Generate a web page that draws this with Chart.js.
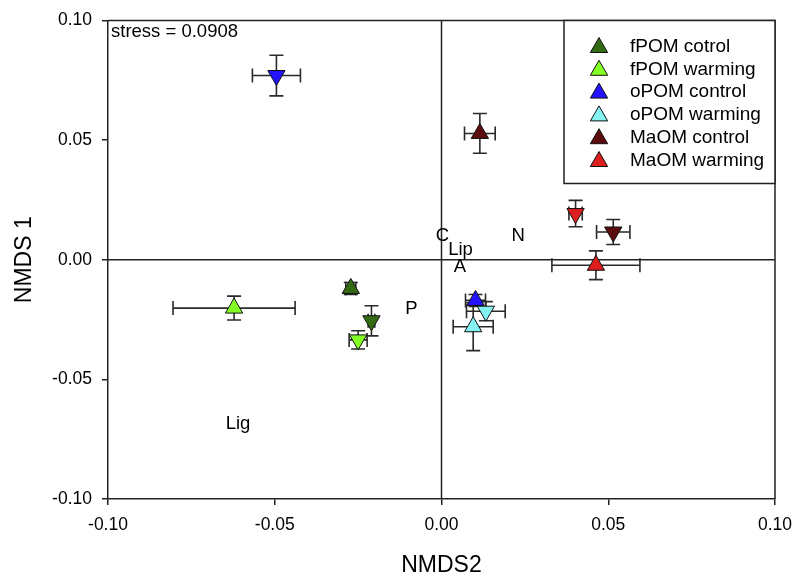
<!DOCTYPE html>
<html>
<head>
<meta charset="utf-8">
<script src="https://cdn.jsdelivr.net/npm/chart.js@4.4.1/dist/chart.umd.min.js"></script>
<style>
  body { margin: 0; background: #fff; }
</style>
</head>
<body>
<canvas id="nmds-chart" width="800" height="583"></canvas>
<script>
// NMDS ordination of SOM fractions
const groups = ['fPOM cotrol', 'fPOM warming', 'oPOM control', 'oPOM warming', 'MaOM control', 'MaOM warming'];
const colors = ['#346b12', '#84ff24', '#2412ff', '#84f2f2', '#5c0c0c', '#dc1e1e'];

// up triangles
const upX = [-0.0272, -0.0622, 0.0102, 0.0095, 0.0115, 0.0463];
const upY = [-0.0120, -0.0202, -0.0170, -0.0280, 0.0528, -0.0023];
const upXErr = [0.0015, 0.0183, 0.0030, 0.0060, 0.0046, 0.0132];
const upYErr = [0.0025, 0.0050, 0.0025, 0.0100, 0.0083, 0.0060];

// down triangles
const downX = [-0.0210, -0.0250, -0.0495, 0.0133, 0.0515, 0.0402];
const downY = [-0.0255, -0.0335, 0.0770, -0.0215, 0.0116, 0.0193];
const downXErr = [0.0010, 0.0027, 0.0072, 0.0058, 0.0050, 0.0020];
const downYErr = [0.0063, 0.0038, 0.0085, 0.0040, 0.0052, 0.0055];

// variable labels
const varLabels = ['C', 'Lip', 'A', 'N', 'P', 'Lig'];
const varX = [0.0003, 0.0057, 0.0055, 0.0230, -0.0090, -0.0610];
const varY = [0.0100, 0.0040, -0.0030, 0.0098, -0.0205, -0.0685];

const axisTicks = [-0.10, -0.05, 0.00, 0.05, 0.10];
const stressText = 'stress = 0.0908';

const FONT = "'Liberation Sans', Arial, sans-serif";

const datasets = groups.map((name, i) => ({
  label: name,
  data: [
    { x: upX[i], y: upY[i], xErr: upXErr[i], yErr: upYErr[i] },
    { x: downX[i], y: downY[i], xErr: downXErr[i], yErr: downYErr[i] },
  ],
  pointStyle: 'triangle',
  pointRotation: [0, 180],
  pointRadius: 10,
  pointHoverRadius: 10,
  pointBackgroundColor: colors[i],
  pointBorderColor: '#111',
  pointBorderWidth: 1,
  order: groups.length - i,
}));

// error bars behind the markers
const errorBars = {
  id: 'errorBars',
  beforeDatasetsDraw(chart) {
    const { ctx, scales: { x, y } } = chart;
    const cap = 7;
    ctx.save();
    ctx.strokeStyle = '#2a2a2a';
    ctx.lineWidth = 1.6;
    chart.data.datasets.forEach(ds => {
      ds.data.forEach(p => {
        const px = x.getPixelForValue(p.x);
        const py = y.getPixelForValue(p.y);
        const x0 = x.getPixelForValue(p.x - p.xErr);
        const x1 = x.getPixelForValue(p.x + p.xErr);
        const y0 = y.getPixelForValue(p.y - p.yErr);
        const y1 = y.getPixelForValue(p.y + p.yErr);
        ctx.beginPath();
        ctx.moveTo(x0, py); ctx.lineTo(x1, py);
        ctx.moveTo(x0, py - cap); ctx.lineTo(x0, py + cap);
        ctx.moveTo(x1, py - cap); ctx.lineTo(x1, py + cap);
        ctx.moveTo(px, y0); ctx.lineTo(px, y1);
        ctx.moveTo(px - cap, y0); ctx.lineTo(px + cap, y0);
        ctx.moveTo(px - cap, y1); ctx.lineTo(px + cap, y1);
        ctx.stroke();
      });
    });
    ctx.restore();
  }
};

// frame, zero lines, labels and legend box
const decorations = {
  id: 'decorations',
  beforeDatasetsDraw(chart) {
    const { ctx, chartArea: a, scales: { x, y } } = chart;
    ctx.save();
    ctx.strokeStyle = '#222';
    ctx.lineWidth = 1.5;
    ctx.beginPath();
    ctx.moveTo(a.left, a.top); ctx.lineTo(a.right, a.top); ctx.lineTo(a.right, a.bottom);
    const zx = x.getPixelForValue(0), zy = y.getPixelForValue(0);
    ctx.moveTo(zx, a.top); ctx.lineTo(zx, a.bottom);
    ctx.moveTo(a.left, zy); ctx.lineTo(a.right, zy);
    ctx.stroke();

    ctx.fillStyle = '#000';
    ctx.font = '18.5px ' + FONT;
    ctx.textAlign = 'center';
    ctx.textBaseline = 'middle';
    varLabels.forEach((t, i) => {
      ctx.fillText(t, x.getPixelForValue(varX[i]), y.getPixelForValue(varY[i]));
    });
    ctx.textAlign = 'left';
    ctx.fillText(stressText, a.left + 3, a.top + 11);
    ctx.restore();
  },
  afterDraw(chart) {
    const { ctx, chartArea: a } = chart;
    const boxW = 211, boxH = 163;
    const left = a.right - boxW, top = a.top;
    ctx.save();
    ctx.fillStyle = '#fff';
    ctx.fillRect(left, top, boxW, boxH);
    ctx.strokeStyle = '#222';
    ctx.lineWidth = 1.5;
    ctx.strokeRect(left, top, boxW, boxH);
    ctx.font = '19px ' + FONT;
    ctx.textBaseline = 'middle';
    ctx.textAlign = 'left';
    groups.forEach((name, i) => {
      const cy = top + 26 + i * 22.8;
      ctx.fillStyle = colors[i];
      ctx.strokeStyle = '#111';
      ctx.lineWidth = 1;
      Chart.helpers.drawPoint(ctx, { pointStyle: 'triangle', radius: 10, rotation: 0, borderWidth: 1 }, left + 35, cy + 1);
      ctx.fillStyle = '#000';
      ctx.fillText(name, left + 66, cy);
    });
    ctx.restore();
  }
};

const tickFont = { family: FONT, size: 17.5 };
const titleFont = { family: FONT, size: 23 };

new Chart(document.getElementById('nmds-chart').getContext('2d'), {
  type: 'scatter',
  data: { datasets },
  options: {
    responsive: false,
    animation: false,
    layout: { padding: { top: 20, right: 25, left: 0, bottom: 0 } },
    plugins: {
      legend: { display: false },
      tooltip: { enabled: false },
    },
    scales: {
      x: {
        min: -0.1,
        max: 0.1,
        afterBuildTicks: axis => { axis.ticks = axisTicks.map(v => ({ value: v })); },
        afterFit: axis => { axis.height = 84; axis.paddingRight = 0; axis.paddingLeft = 0; },
        ticks: { font: tickFont, color: '#000', padding: 10, maxRotation: 0, callback: v => v.toFixed(2) },
        grid: { drawOnChartArea: false, tickLength: 6, color: '#222', lineWidth: 1.5 },
        border: { color: '#222', width: 1.5 },
        title: { display: true, text: 'NMDS2', font: titleFont, color: '#000', padding: { top: 0, bottom: 4 } },
      },
      y: {
        min: -0.1,
        max: 0.1,
        afterBuildTicks: axis => { axis.ticks = axisTicks.map(v => ({ value: v })); },
        afterFit: axis => { axis.width = 108; },
        ticks: { font: tickFont, color: '#000', padding: 10, callback: v => v.toFixed(2) },
        grid: { drawOnChartArea: false, tickLength: 6, color: '#222', lineWidth: 1.5 },
        border: { color: '#222', width: 1.5 },
        title: { display: true, text: 'NMDS 1', font: titleFont, color: '#000', padding: { top: 11, bottom: 0 } },
      },
    },
  },
  plugins: [errorBars, decorations],
});
</script>
</body>
</html>
